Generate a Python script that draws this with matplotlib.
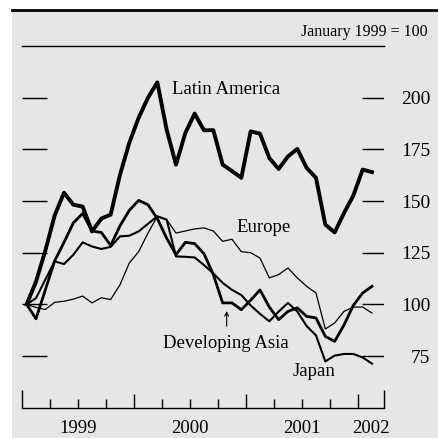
import numpy as np
import matplotlib.pyplot as plt
from matplotlib.lines import Line2D
from matplotlib.patches import Rectangle


# -------------------------------
# Data (index, January 1999 = 100), monthly Jan 1999 - Feb 2002
# -------------------------------

latin_america = [100, 111, 126, 143, 154, 148.2, 147.3, 135.3, 141.5, 143.4,
                 162.7, 178.2, 190.3, 200, 207.4, 184.5, 167.6, 182.9, 192.3, 184.2,
                 184.3, 167.6, 164.5, 161.2, 183.7, 182.6, 170.8, 165.5, 171.6, 175.2,
                 166, 161.2, 138.6, 134.8, 144.2, 152.6, 165.2, 164]

developing_asia = [100, 93, 107, 121, 130, 139.4, 144, 135.5, 134.8, 128.5,
                   138, 145.5, 150.3, 148.2, 141.5, 132, 124, 130, 129.4, 124.5,
                   114.4, 100.7, 100.7, 97.4, 102, 107, 98.7, 92.6, 96.6, 98.3,
                   94.2, 93.4, 84.5, 82.1, 90, 99.5, 105.5, 108.7]

japan = [100, 103, 112, 120.8, 119.5, 124, 130, 128, 126.8, 127.8,
         132.9, 133.2, 135.3, 139, 142.6, 141, 123.2, 123, 122.7, 119,
         115, 110.4, 107, 104.5, 99.5, 95.4, 91.8, 96.5, 100.7, 96.5,
         89.5, 85, 72.4, 75.2, 76, 76, 74.3, 71.3]

europe = [100, 98.5, 97.5, 101, 101.5, 102.5, 104, 100.7, 103.2, 102.3,
          109.5, 120, 125.5, 134.5, 142.6, 141, 134.5, 135.5, 136.5, 137,
          135.5, 130.5, 131.5, 125.5, 125, 122.4, 112.8, 114.4, 117.6, 112.8,
          108.7, 105.5, 88.1, 91, 96.6, 98.7, 98.7, 95.8]

# months since 1 Jan 1999, points at mid-month
months = np.arange(len(latin_america)) + 0.5

y_ticks = [75, 100, 125, 150, 175, 200]
years = ["1999", "2000", "2001", "2002"]
year_starts = [0, 12, 24, 36]
x_end = 38.82

# -------------------------------
# Figure
# -------------------------------

plt.rcParams["font.family"] = ["Liberation Serif", "DejaVu Serif"]

W = 438.0
fig = plt.figure(figsize=(4.38, 4.38), dpi=100)
fig.patch.set_facecolor("white")

fig.add_artist(Rectangle((12 / W, 0), 1 - 12 / W, (W - 10) / W,
                         transform=fig.transFigure, facecolor="#e6e6e6",
                         edgecolor="none", zorder=-1))
fig.add_artist(Line2D([12 / W, 1], [(W - 9.5) / W] * 2,
                      transform=fig.transFigure, color="black", lw=2.0, zorder=5))

fig.text(428 / W, (W - 35.5) / W, "January 1999 = 100",
         ha="right", va="baseline", fontsize=11.5)

ax = fig.add_axes([22 / W, (W - 407.7) / W, 362.3 / W, 361.7 / W])
ax.set_facecolor("none")
ax.set_xlim(0, x_end)
ax.set_ylim(50, 225)

for side in ["left", "right"]:
    ax.spines[side].set_visible(False)
ax.spines["top"].set_linewidth(1.0)
ax.spines["bottom"].set_linewidth(1.0)

# -------------------------------
# Series
# -------------------------------

ax.plot(months, europe, color="black", lw=0.9)
ax.plot(months, japan, color="black", lw=1.5)
ax.plot(months, developing_asia, color="black", lw=2.0)
ax.plot(months, latin_america, color="black", lw=2.8)

# -------------------------------
# Axes ticks
# -------------------------------

ax.set_xticks(year_starts[1:])
ax.set_xticks([q for q in range(3, 38, 3) if q % 12 != 0], minor=True)
ax.tick_params(axis="x", which="major", direction="in", length=10, width=1.0,
               labelbottom=False, top=False)
ax.tick_params(axis="x", which="minor", direction="in", length=6.5, width=1.0,
               top=False)
ax.vlines([0, x_end], 0, 18 / 361.7, transform=ax.get_xaxis_transform(),
          color="black", lw=1.0, clip_on=False)

for lab, start in zip(years, year_starts):
    mid = min(start + 6, (start + x_end) / 2)
    ax.text(mid, -0.069, lab, transform=ax.get_xaxis_transform(),
            ha="center", va="baseline", fontsize=13.5)

ax.yaxis.tick_right()
ax.set_yticks(y_ticks)
ax.tick_params(axis="y", length=0, pad=33, labelsize=14)
plt.setp(ax.get_yticklabels(), ha="right")

ax.hlines(y_ticks, 0, 0.068, transform=ax.get_yaxis_transform(),
          color="black", lw=1.0)
ax.hlines(y_ticks, 0.9385, 1.0, transform=ax.get_yaxis_transform(),
          color="black", lw=1.0)

# -------------------------------
# Labels
# -------------------------------

ax.text(16.04, 201.8, "Latin America", fontsize=13.5, va="baseline")
ax.text(22.99, 134.8, "Europe", fontsize=13.5, va="baseline")
ax.text(15.07, 78.9, "Developing Asia", fontsize=13.5, va="baseline")
ax.text(29.0, 65.2, "Japan", fontsize=13.5, va="baseline")
ax.annotate("", xy=(21.93, 96.8), xytext=(21.93, 89.4),
            arrowprops=dict(arrowstyle="->", lw=0.8, color="black",
                            shrinkA=0, shrinkB=0, mutation_scale=7))

plt.savefig("out.png", dpi=100)
plt.close()
